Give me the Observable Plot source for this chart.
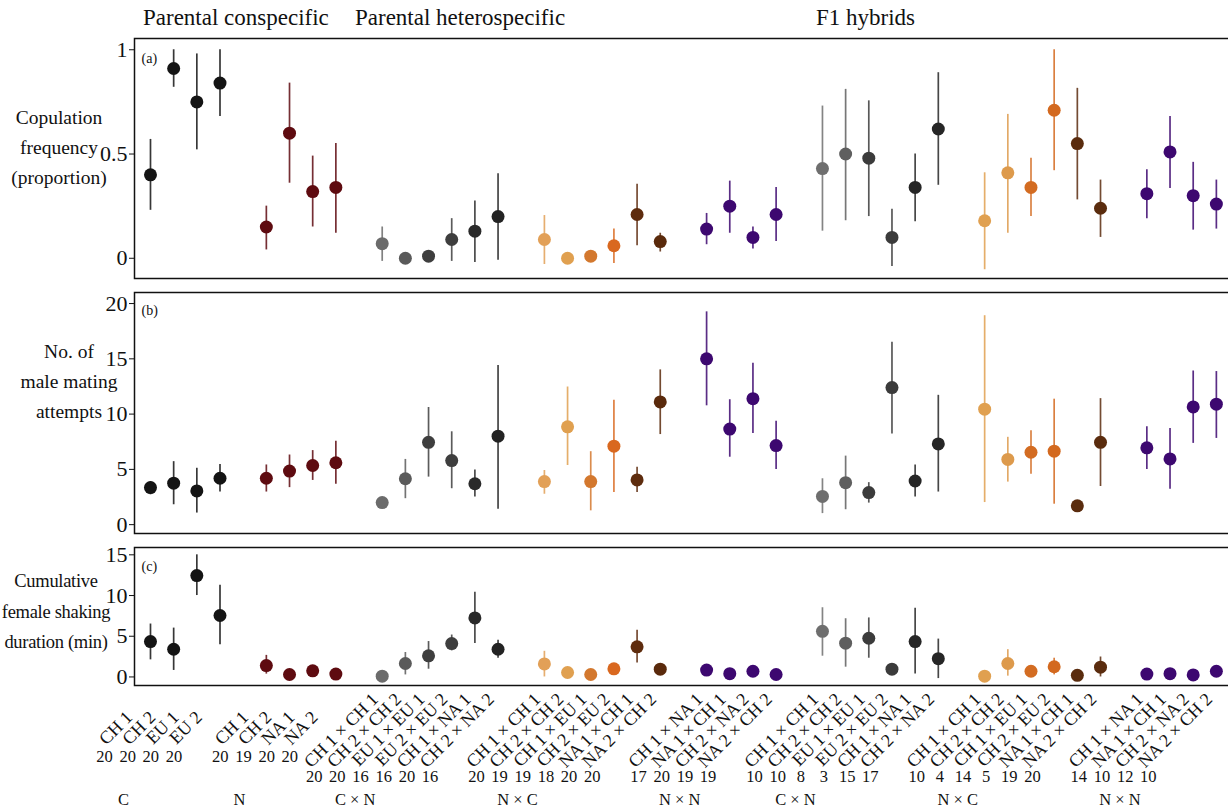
<!DOCTYPE html>
<html>
<head>
<meta charset="utf-8">
<script src="https://cdn.jsdelivr.net/npm/d3@7"></script>
<script src="https://cdn.jsdelivr.net/npm/@observablehq/plot@0.6"></script>
<style>
html, body { margin: 0; padding: 0; overflow: hidden; background: #fff; }
#root { position: relative; width: 1228px; height: 809px; font-family: "Liberation Serif", serif; color: #111; overflow: hidden; }
.abs { position: absolute; white-space: nowrap; }
.ytitle { width: 220px; text-align: center; font-size: 19.5px; line-height: 30px; }
.ytitle.small { font-size: 18.5px; letter-spacing: -0.3px; line-height: 30.5px; }
.head { font-size: 23px; line-height: 1; }
.panel { position: absolute; left: 0; max-width: none !important; }
</style>
</head>
<body>
<div id="root"></div>
<script>
// ---------- data ----------
const headings = ["Parental conspecific", "Parental heterospecific", "F1 hybrids"];
const groupLabels = ["C", "N", "C × N", "N × C", "N × N", "C × N", "N × C", "N × N"];
const groupSizes = [4, 4, 6, 6, 4, 6, 6, 4];
const crossLabels = [
  "CH 1", "CH 2", "EU 1", "EU 2",
  "CH 1", "CH 2", "NA 1", "NA 2",
  "CH 1 × CH 1", "CH 2 × CH 2", "EU 1 × EU 1", "EU 2 × EU 2", "CH 1 × NA 1", "CH 2 × NA 2",
  "CH 1 × CH 1", "CH 2 × CH 2", "CH 1 × EU 1", "CH 2 × EU 2", "NA 1 × CH 1", "NA 2 × CH 2",
  "CH 1 × NA 1", "NA 1 × CH 1", "CH 2 × NA 2", "NA 2 × CH 2",
  "CH 1 × CH 1", "CH 2 × CH 2", "EU 1 × EU 1", "EU 2 × EU 2", "CH 1 × NA 1", "CH 2 × NA 2",
  "CH 1 × CH 1", "CH 2 × CH 2", "CH 1 × EU 1", "CH 2 × EU 2", "NA 1 × CH 1", "NA 2 × CH 2",
  "CH 1 × NA 1", "NA 1 × CH 1", "CH 2 × NA 2", "NA 2 × CH 2"
];
const sampleSizes = [20,20,20,20, 20,19,20,20, 20,20,16,16,20,16, 20,19,19,18,20,20,
  17,20,19,19, 10,10,8,3,15,17, 10,4,14,5,19,20, 14,10,12,10];

// (a) copulation frequency (proportion)
const copMean = [0.40,0.91,0.75,0.84, 0.15,0.60,0.32,0.34, 0.07,0.00,0.01,0.09,0.13,0.20,
  0.09,0.00,0.01,0.06,0.21,0.08, 0.14,0.25,0.10,0.21, 0.43,0.50,0.48,0.10,0.34,0.62,
  0.18,0.41,0.34,0.71,0.55,0.24, 0.31,0.51,0.30,0.26];
const copLow = [0.23,0.82,0.52,0.68, 0.04,0.36,0.15,0.12, -0.015,null,null,-0.015,-0.02,-0.01,
  -0.03,null,null,-0.025,0.06,0.03, 0.065,0.12,0.045,0.08, 0.13,0.18,0.20,-0.04,0.175,0.35,
  -0.055,0.12,0.20,0.42,0.28,0.10, 0.19,0.335,0.135,0.14];
const copHigh = [0.57,1.00,0.98,1.00, 0.25,0.84,0.49,0.55, 0.15,null,null,0.19,0.275,0.405,
  0.205,null,null,0.14,0.355,0.12, 0.215,0.37,0.15,0.34, 0.73,0.81,0.755,0.235,0.50,0.89,
  0.41,0.69,0.48,1.00,0.815,0.375, 0.425,0.68,0.46,0.375];

// (b) number of male mating attempts
const attMean = [3.35,3.75,3.05,4.2, 4.2,4.85,5.35,5.6, 2.0,4.15,7.45,5.8,3.7,8.0,
  3.9,8.85,3.9,7.1,4.05,11.1, 15.0,8.65,11.4,7.15, 2.55,3.8,2.9,12.4,3.95,7.3,
  10.45,5.9,6.55,6.65,1.7,7.45, 6.95,5.95,10.65,10.9];
const attLow = [2.7,1.8,1.05,2.95, 2.95,3.35,4.0,3.65, null,2.35,4.3,3.25,2.5,1.4,
  2.75,5.35,1.25,2.9,2.9,8.15, 10.75,6.1,8.25,5.0, 1.0,1.35,1.95,8.2,2.5,2.95,
  2.0,3.85,4.55,1.85,null,3.45, 5.0,3.2,7.35,7.8];
const attHigh = [3.9,5.7,5.1,5.45, 5.4,6.3,6.7,7.55, null,5.9,10.6,8.4,4.95,14.4,
  4.9,12.45,6.6,11.25,5.2,14.0, 19.25,11.3,14.6,9.35, 4.15,6.2,3.8,16.5,5.4,11.7,
  18.9,7.9,8.5,11.35,null,11.4, 8.85,8.7,13.9,13.85];

// (c) cumulative female shaking duration (min)
const shakeMean = [4.35,3.4,12.45,7.55, 1.4,0.3,0.75,0.35, 0.1,1.65,2.6,4.1,7.25,3.4,
  1.6,0.55,0.3,1.0,3.7,0.95, 0.85,0.4,0.7,0.3, 5.6,4.15,4.75,0.95,4.35,2.25,
  0.1,1.65,0.7,1.25,0.2,1.2, 0.35,0.4,0.25,0.7];
const shakeLow = [2.1,0.8,10.0,3.95, 0.35,null,null,null, null,0.25,0.95,3.2,4.1,2.3,
  0.0,null,null,null,1.7,null, null,null,null,null, 2.55,1.2,2.3,null,0.35,-0.2,
  null,0.1,null,0.25,null,0.0, null,null,null,null];
const shakeHigh = [6.5,6.0,15.0,11.25, 2.65,null,null,null, null,3.0,4.35,5.15,10.4,4.5,
  3.15,null,null,null,5.75,null, null,null,null,null, 8.5,7.15,7.25,null,8.45,4.65,
  null,3.35,null,2.3,null,2.45, null,null,null,null];

// ---------- styles ----------
const groupPalettes = [
  ["#141414", "#141414", "#141414", "#141414"],
  ["#5e0b10", "#5e0b10", "#5e0b10", "#5e0b10"],
  ["#6b6b6b", "#5a5a5a", "#3e3e3e", "#3e3e3e", "#2a2a2a", "#232323"],
  ["#e2a057", "#e0a050", "#d3782e", "#d9681f", "#5e2c0e", "#5a2a0c"],
  ["#3d0870", "#3d0870", "#3d0870", "#3d0870"],
  ["#6e6e6e", "#5f5f5f", "#3b3b3b", "#3b3b3b", "#262626", "#262626"],
  ["#e0a050", "#dd9a4c", "#d36c22", "#d3691f", "#5a2c0e", "#5a2c0e"],
  ["#3d0870", "#3d0870", "#3d0870", "#3d0870"]
];

// ---------- derived layout (slot index; one empty slot between groups) ----------
const rows = [];
const groupFirst = [];
{
  let slot = 0, k = 0;
  groupSizes.forEach((size, g) => {
    groupFirst.push({x: slot, label: groupLabels[g]});
    for (let i = 0; i < size; i++, k++) {
      rows.push({x: slot++, g, label: crossLabels[k], n: String(sampleSizes[k]),
                 short: !crossLabels[k].includes("×"), color: groupPalettes[g][i], k});
    }
    slot++;
  });
}

const root = document.getElementById("root");
function addDiv(cls, text, left, top) {
  const d = document.createElement("div");
  d.className = "abs " + cls;
  d.innerHTML = text;
  d.style.left = left + "px";
  d.style.top = top + "px";
  root.appendChild(d);
}

const xDomain = [-0.69, 46.61];
const FONT = "Liberation Serif";

function panel({top, height, mTop, mBottom, domain, ticks, mean, low, high, letter, letterDy, extra = []}) {
  const data = rows.map(r => ({...r, y: mean[r.k], lo: low[r.k], hi: high[r.k]}));
  const chart = Plot.plot({
    width: 1232, height, marginLeft: 134, marginRight: 2, marginTop: mTop, marginBottom: mBottom,
    x: {domain: xDomain, axis: null},
    y: {domain, ticks, tickFormat: d => String(d), tickSize: 5, tickPadding: 2, label: null},
    color: {type: "identity"},
    style: {fontFamily: FONT, fontSize: "22px", color: "#111", background: "transparent", overflow: "visible", maxWidth: "none"},
    marks: [
      Plot.frame({stroke: "#111", strokeWidth: 1.5}),
      Plot.ruleX(data.filter(d => d.lo != null), {x: "x", y1: "lo", y2: "hi", stroke: "color", strokeWidth: 1.7, strokeOpacity: 0.85}),
      Plot.dot(data, {x: "x", y: "y", r: 6.5, fill: "color"}),
      Plot.text([letter], {frameAnchor: "top-left", text: d => d, dx: 7, dy: letterDy, textAnchor: "start", fontSize: 14, fontFamily: FONT, fill: "#111"}),
      ...extra
    ]
  });
  chart.classList.add("panel");
  chart.style.top = top + "px";
  chart.style.maxWidth = "none";
  chart.setAttribute("width", 1232);
  root.appendChild(chart);
}

panel({top: 0, height: 285, mTop: 38, mBottom: 7, domain: [-0.097, 1.054], ticks: [0, 0.5, 1],
  mean: copMean, low: copLow, high: copHigh, letter: "(a)", letterDy: 15});
panel({top: 285, height: 252, mTop: 7, mBottom: 4, domain: [-0.8, 21], ticks: [0, 5, 10, 15, 20],
  mean: attMean, low: attLow, high: attHigh, letter: "(b)", letterDy: 13});
panel({top: 537, height: 272, mTop: 10, mBottom: 124, domain: [-1.05, 15.9], ticks: [0, 5, 10, 15],
  mean: shakeMean, low: shakeLow, high: shakeHigh, letter: "(c)", letterDy: 14,
  extra: [
    Plot.text(rows.filter(r => r.short), {x: "x", text: "label", rotate: -45, textAnchor: "end",
      frameAnchor: "bottom", dx: -17, dy: 33, fontSize: 18, fontFamily: FONT, fill: "#111"}),
    Plot.text(rows.filter(r => !r.short), {x: "x", text: "label", rotate: -45, textAnchor: "end",
      frameAnchor: "bottom", dx: -3, dy: 15, fontSize: 18, fontFamily: FONT, fill: "#111"}),
    Plot.text(rows.filter(r => r.short), {x: "x", text: "n", frameAnchor: "bottom",
      dx: -46, dy: 76, fontSize: 16.5, fontFamily: FONT, fill: "#111"}),
    Plot.text(rows.filter(r => !r.short), {x: "x", text: "n", frameAnchor: "bottom",
      dx: -68, dy: 96, fontSize: 16.5, fontFamily: FONT, fill: "#111"}),
    Plot.text(groupFirst, {x: "x", text: "label", frameAnchor: "bottom",
      dx: -27, dy: 119, fontSize: 16.5, fontFamily: FONT, fill: "#111"})
  ]});

// headings and axis titles
addDiv("head", headings[0], 143, 6);
addDiv("head", headings[1], 355, 6);
addDiv("head", headings[2], 816, 6);
addDiv("ytitle", "Copulation<br>frequency<br>(proportion)", 59 - 110, 103);
addDiv("ytitle", "No. of<br>male mating<br>attempts", 69 - 110, 337);
addDiv("ytitle small", "Cumulative<br>female shaking<br>duration (min)", 56 - 110, 566);
</script>
</body>
</html>
